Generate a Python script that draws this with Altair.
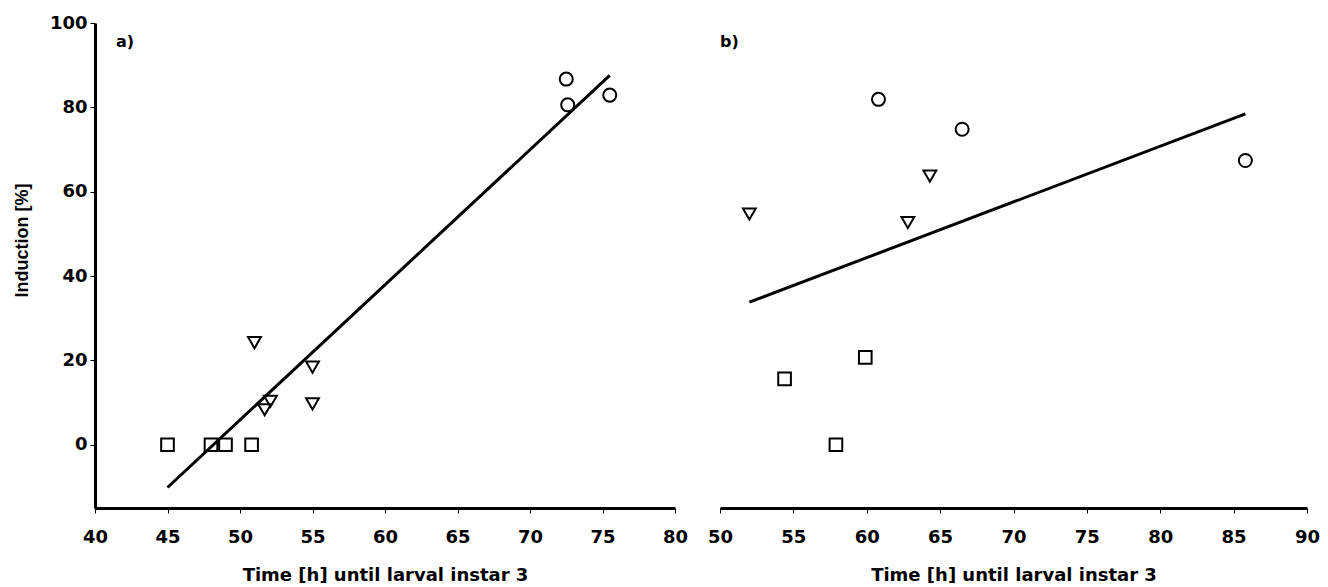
import altair as alt
import pandas as pd

# Panel a
a_time = [45.0, 48.0, 49.0, 50.8, 51.0, 55.0, 52.1, 51.7, 55.0, 72.5, 72.6, 75.5]
a_induction = [0.0, 0.0, 0.0, 0.0, 24.2, 18.4, 10.3, 8.3, 9.7, 86.7, 80.6, 82.9]
a_group = ["square"] * 4 + ["triangle"] * 5 + ["circle"] * 3

# Panel b
b_time = [54.4, 59.9, 57.9, 52.0, 64.3, 62.8, 60.8, 66.5, 85.8]
b_induction = [15.6, 20.7, 0.0, 54.7, 63.7, 52.7, 81.9, 74.8, 67.4]
b_group = ["square"] * 3 + ["triangle"] * 3 + ["circle"] * 3

y_ticks = [0, 20, 40, 60, 80, 100]
a_x_ticks = [40, 45, 50, 55, 60, 65, 70, 75, 80]
b_x_ticks = [50, 55, 60, 65, 70, 75, 80, 85, 90]

df_a = pd.DataFrame({"time": a_time, "induction": a_induction, "group": a_group})
df_b = pd.DataFrame({"time": b_time, "induction": b_induction, "group": b_group})

FONT = "DejaVu Sans"
YFONT = "Liberation Sans"
XTITLE = "Time [h] until larval instar 3"

shape_scale = alt.Scale(domain=["square", "triangle", "circle"],
                        range=["square", "triangle-down", "circle"])
size_scale = alt.Scale(domain=["square", "triangle", "circle"], range=[160, 170, 150])


def panel(df, xdom, xticks, label, label_x, show_y):
    xenc = alt.X("time:Q", scale=alt.Scale(domain=xdom, nice=False, zero=False),
                 axis=alt.Axis(values=xticks, title=XTITLE, labelFlush=False))
    if show_y:
        yaxis = alt.Axis(values=y_ticks, title="Induction [%]", titleFont=YFONT,
                         titleFontSize=18, labelPadding=3, titlePadding=18, titleY=217,
                         labelFlush=False)
    else:
        yaxis = None
    yenc = alt.Y("induction:Q", scale=alt.Scale(domain=[-15, 100], nice=False, zero=False),
                 axis=yaxis)
    pts = alt.Chart(df).mark_point(filled=False, color="black", strokeWidth=2, opacity=1).encode(
        x=xenc, y=yenc,
        shape=alt.Shape("group:N", scale=shape_scale, legend=None),
        size=alt.Size("group:N", scale=size_scale, legend=None),
    )
    line = alt.Chart(df).mark_line(color="black", strokeWidth=3).transform_regression(
        "time", "induction"
    ).encode(x=xenc, y=yenc)
    txt = alt.Chart(pd.DataFrame({"t": [label]})).mark_text(
        font=FONT, fontWeight="bold", fontSize=16, align="left", baseline="middle", color="black"
    ).encode(text="t:N", x=alt.value(label_x), y=alt.value(19))
    return alt.layer(line, pts, txt).properties(width=580 if show_y else 587, height=485)


pa = panel(df_a, [40, 80], a_x_ticks, "a)", 21, True)
pb = panel(df_b, [50, 90], b_x_ticks, "b)", 0, False)

chart = alt.hconcat(pa, pb, spacing=45, bounds="flush").properties(
    padding={"left": 13, "top": 14, "right": 2, "bottom": 0}
).configure_view(stroke=None).configure_axis(
    grid=False,
    domainColor="black", domainWidth=3,
    tickColor="black", tickWidth=1, tickSize=5,
    labelFont=FONT, labelFontWeight="bold", labelFontSize=18, labelColor="black",
    titleFont=FONT, titleFontWeight="bold", titleFontSize=18, titleColor="black",
).configure_axisX(labelPadding=15, titlePadding=20)

chart.save("out.html", embed_options={"renderer": "svg", "actions": False})
